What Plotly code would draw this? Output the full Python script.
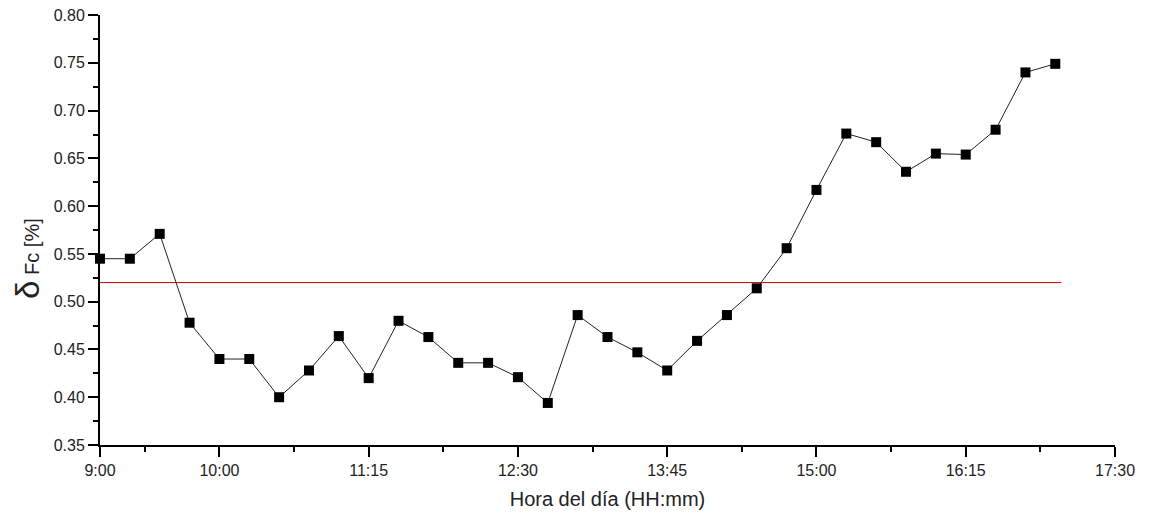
import plotly.graph_objects as go

# Time of day in minutes since midnight (every 15 min from 9:00 to 17:00)
times_min = [540 + 15 * i for i in range(33)]
delta_fc = [0.545, 0.545, 0.571, 0.478, 0.440, 0.440, 0.400, 0.428, 0.464, 0.420,
            0.480, 0.463, 0.436, 0.436, 0.421, 0.394, 0.486, 0.463, 0.447, 0.428,
            0.459, 0.486, 0.514, 0.556, 0.617, 0.676, 0.667, 0.636, 0.655, 0.654,
            0.680, 0.740, 0.749]
ref_x = [540, 1023]
ref_y = [0.52, 0.52]

tick_vals = [540, 600, 675, 750, 825, 900, 975, 1050]
tick_text = ["9:00", "10:00", "11:15", "12:30", "13:45", "15:00", "16:15", "17:30"]
y_tick_vals = [0.35, 0.40, 0.45, 0.50, 0.55, 0.60, 0.65, 0.70, 0.75, 0.80]
y_tick_text = ["0.35", "0.40", "0.45", "0.50", "0.55", "0.60", "0.65", "0.70", "0.75", "0.80"]

fig = go.Figure()
fig.add_trace(go.Scatter(x=ref_x, y=ref_y, mode="lines",
                         line=dict(color="#c00000", width=1),
                         showlegend=False, hoverinfo="skip"))
fig.add_trace(go.Scatter(x=times_min, y=delta_fc, mode="lines+markers",
                         line=dict(color="#222222", width=1),
                         marker=dict(symbol="square", size=10, color="black"),
                         cliponaxis=False, showlegend=False))

font_fam = "Liberation Sans, Arial, sans-serif"
fig.update_layout(
    width=1151, height=514,
    margin=dict(l=92, r=44, t=7, b=77),
    paper_bgcolor="white", plot_bgcolor="white",
    font=dict(family=font_fam, color="#222222", size=16),
    xaxis=dict(range=[540, 1050], tickmode="array", tickvals=tick_vals, ticktext=tick_text,
               automargin=False, ticklabeloverflow="allow",
               showline=True, linecolor="black", linewidth=2, mirror=False,
               ticks="outside", ticklen=10, tickwidth=2, tickcolor="black",
               showgrid=False, zeroline=False,
               tickfont=dict(size=16, color="#222222"),
               minor=dict(ticks="outside", ticklen=5, tickwidth=2, tickcolor="black",
                          tick0=562.5, dtick=75, showgrid=False),
               title=dict(text="Hora del día (HH:mm)", font=dict(size=20, color="#222222"),
                          standoff=14)),
    yaxis=dict(range=[0.35, 0.8001], tickmode="array", tickvals=y_tick_vals,
               ticktext=y_tick_text, automargin=False, ticklabeloverflow="allow",
               showline=True, linecolor="black", linewidth=2, mirror=False,
               ticks="outside", ticklen=10, tickwidth=2, tickcolor="black",
               showgrid=False, zeroline=False,
               tickfont=dict(size=16, color="#222222"),
               minor=dict(ticks="outside", ticklen=5, tickwidth=2, tickcolor="black",
                          tick0=0.375, dtick=0.05, showgrid=False)),
    annotations=[dict(text="<span style='font-size:33px'>δ</span> Fc [%]",
                      font=dict(size=20, color="#222222"),
                      xref="paper", yref="paper", x=-0.071, y=0.435,
                      xanchor="center", yanchor="middle", textangle=-90,
                      showarrow=False)],
)

fig.write_html("out.html")
